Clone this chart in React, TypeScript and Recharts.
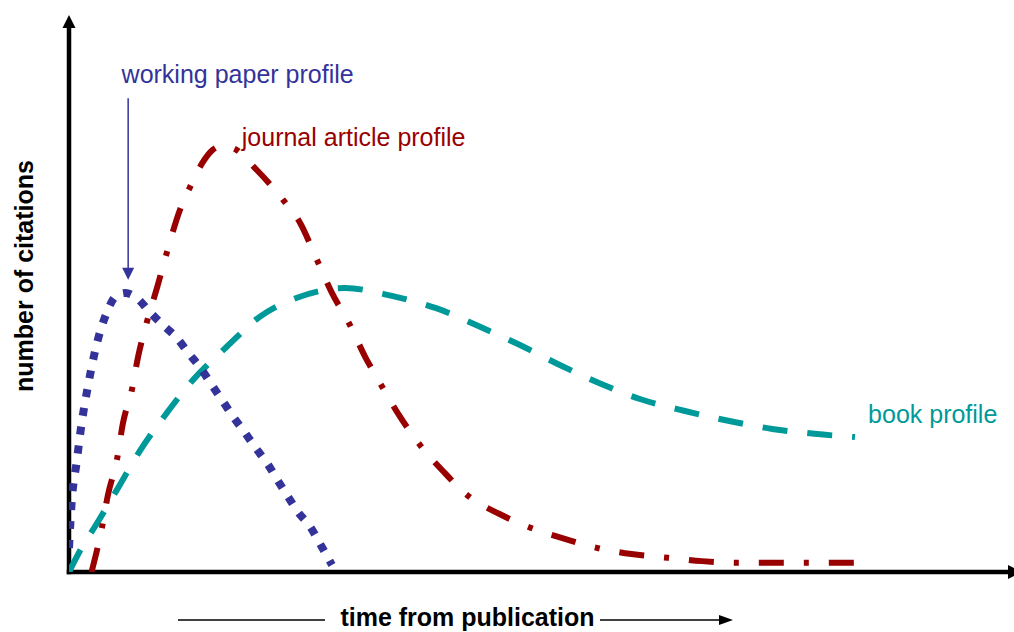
import React from 'react';
import { LineChart, Line, XAxis, YAxis, ReferenceDot, ReferenceLine } from 'recharts';

// working paper profile (blue, dotted)
const workingPaperX = [0, 0.3, 0.8, 1.35, 2.0, 2.8, 4.0, 5.0, 6.0, 7.2, 8.6, 10.0, 11.5, 12.7, 14.0, 15.2, 16.3, 17.5, 18.7, 19.8, 21.1, 22.2, 23.2, 24.4, 25.7, 26.7, 28.0];
const workingPaperY = [4.4, 13.2, 20.0, 27.4, 34.0, 40.8, 47.6, 50.7, 51.3, 50.4, 47.8, 45.4, 43.0, 40.3, 37.5, 34.4, 31.6, 28.5, 25.7, 23.0, 20.0, 16.9, 14.2, 11.0, 8.3, 5.3, 1.3];

// journal article profile (red, dash-dot)
const journalX = [2.4, 3.5, 4.15, 5.1, 5.75, 6.7, 7.35, 8.3, 9.4, 10.4, 11.8, 12.9, 14.2, 15.3, 16.3, 17.5, 20.0, 22.8, 24.6, 26.4, 28.0, 29.8, 31.5, 33.3, 35.2, 37.4, 39.8, 42.5, 45.8, 49.2, 52.8, 56.3, 59.9, 63.8, 67.4, 71.2, 74.9, 83.9];
const journalY = [0, 8.1, 14.2, 20.6, 27.4, 33.5, 39.5, 46.0, 52.4, 58.6, 66.5, 70.8, 75.2, 77.6, 78.3, 77.9, 73.9, 68.4, 64.2, 57.4, 51.3, 45.8, 39.7, 34.2, 28.7, 23.3, 18.6, 14.0, 10.7, 8.1, 6.1, 4.4, 3.3, 2.6, 2.0, 1.7, 1.7, 1.7];

// book profile (teal, dashed)
const bookX = [0, 1.2, 3.0, 5.1, 7.6, 10.4, 13.2, 16.8, 20.3, 24.6, 29.4, 34.5, 39.1, 43.6, 47.8, 52.1, 56.5, 60.8, 65.6, 70.2, 74.9, 79.4, 83.7];
const bookY = [0, 4.0, 9.0, 15.1, 22.4, 29.2, 35.3, 41.4, 46.9, 50.6, 52.2, 50.7, 48.5, 45.2, 41.9, 38.2, 34.7, 31.8, 29.6, 27.8, 26.3, 25.4, 24.8];

const workingPaperLabel = 'working paper profile';
const journalLabel = 'journal article profile';
const bookLabel = 'book profile';
const xTitle = 'time from publication';
const yTitle = 'number of citations';

const workingPaperData = workingPaperX.map((x, i) => ({ x, y: workingPaperY[i] }));
const journalData = journalX.map((x, i) => ({ x, y: journalY[i] }));
const bookData = bookX.map((x, i) => ({ x, y: bookY[i] }));

const BLUE = '#333399';
const RED = '#990000';
const TEAL = '#009999';
const FONT = "'Liberation Sans', Arial, Helvetica, sans-serif";

const textShape = (text: string, color: string) => (p: any) => (
  <text x={p.cx} y={p.cy} fill={color} fontFamily={FONT} fontSize={25}>
    {text}
  </text>
);

// anchored at the origin (0,0)
const xTitleShape = (p: any) => {
  const ox = p.cx;
  const oy = p.cy;
  const ly = oy + 48;
  return (
    <g>
      <line x1={ox + 109} y1={ly} x2={ox + 256} y2={ly} stroke="#000" strokeWidth={1.5} />
      <text x={ox + 398.5} y={oy + 54} textAnchor="middle" fontFamily={FONT} fontWeight="bold" fontSize={25} fill="#000">
        {xTitle}
      </text>
      <line x1={ox + 531} y1={ly} x2={ox + 652} y2={ly} stroke="#000" strokeWidth={1.5} />
      <polygon points={`${ox + 650},${ly - 5} ${ox + 664},${ly} ${ox + 650},${ly + 5}`} fill="#000" />
    </g>
  );
};

// anchored at the top of the y axis (0,100)
const yTitleShape = (p: any) => {
  const x = p.cx - 36;
  const y = p.cy + 248;
  return (
    <text
      x={x}
      y={y}
      transform={`rotate(-90 ${x} ${y})`}
      textAnchor="middle"
      fontFamily={FONT}
      fontWeight="bold"
      fontSize={25}
      fill="#000"
    >
      {yTitle}
    </text>
  );
};

export default function App() {
  return (
    <div style={{ position: 'absolute', left: 0, top: 0, background: '#fff' }}>
      <LineChart width={1014} height={632} margin={{ top: 28, right: 6, bottom: 60, left: 69 }}>
        <XAxis type="number" dataKey="x" domain={[0, 100]} allowDataOverflow height={0} tick={false} tickLine={false} axisLine={false} />
        <YAxis type="number" dataKey="y" domain={[0, 100]} allowDataOverflow width={0} tick={false} tickLine={false} axisLine={false} />
        <ReferenceLine segment={[{ x: 0, y: 0 }, { x: 100, y: 0 }]} stroke="#000" strokeWidth={4.5} strokeLinecap="square" ifOverflow="visible" />
        <ReferenceLine segment={[{ x: 0, y: 0 }, { x: 0, y: 100 }]} stroke="#000" strokeWidth={4.5} strokeLinecap="square" ifOverflow="visible" />
        <Line
          data={bookData}
          dataKey="y"
          type="monotone"
          stroke={TEAL}
          strokeWidth={6}
          strokeDasharray="25 20"
          dot={false}
          activeDot={false}
          isAnimationActive={false}
        />
        <Line
          data={journalData}
          dataKey="y"
          type="monotone"
          stroke={RED}
          strokeWidth={6}
          strokeDasharray="25 20 5 20"
          dot={false}
          activeDot={false}
          isAnimationActive={false}
        />
        <Line
          data={workingPaperData}
          dataKey="y"
          type="monotone"
          stroke={BLUE}
          strokeWidth={8}
          strokeDasharray="8 11"
          dot={false}
          activeDot={false}
          isAnimationActive={false}
        />
        <ReferenceDot
          x={100}
          y={0}
          ifOverflow="visible"
          shape={(p: any) => (
            <polygon points={`${p.cx},${p.cy - 7} ${p.cx + 14},${p.cy} ${p.cx},${p.cy + 7}`} fill="#000" />
          )}
        />
        <ReferenceDot
          x={0}
          y={100}
          ifOverflow="visible"
          shape={(p: any) => (
            <polygon points={`${p.cx - 6.5},${p.cy} ${p.cx},${p.cy - 13} ${p.cx + 6.5},${p.cy}`} fill="#000" />
          )}
        />
        <ReferenceLine
          segment={[{ x: 6.3, y: 87.1 }, { x: 6.3, y: 53.7 }]}
          ifOverflow="visible"
          shape={(p: any) => (
            <g>
              <line x1={p.x1} y1={p.y1} x2={p.x2} y2={p.y2 - 10} stroke={BLUE} strokeWidth={1.5} />
              <polygon points={`${p.x2 - 6},${p.y2 - 12} ${p.x2 + 6},${p.y2 - 12} ${p.x2},${p.y2}`} fill={BLUE} />
            </g>
          )}
        />
        <ReferenceDot x={0} y={0} ifOverflow="visible" shape={xTitleShape} />
        <ReferenceDot x={0} y={100} ifOverflow="visible" shape={yTitleShape} />
        <ReferenceDot x={5.6} y={89.8} ifOverflow="visible" shape={textShape(workingPaperLabel, BLUE)} />
        <ReferenceDot x={18.4} y={78.4} ifOverflow="visible" shape={textShape(journalLabel, RED)} />
        <ReferenceDot x={85.1} y={27.4} ifOverflow="visible" shape={textShape(bookLabel, TEAL)} />
      </LineChart>
    </div>
  );
}
